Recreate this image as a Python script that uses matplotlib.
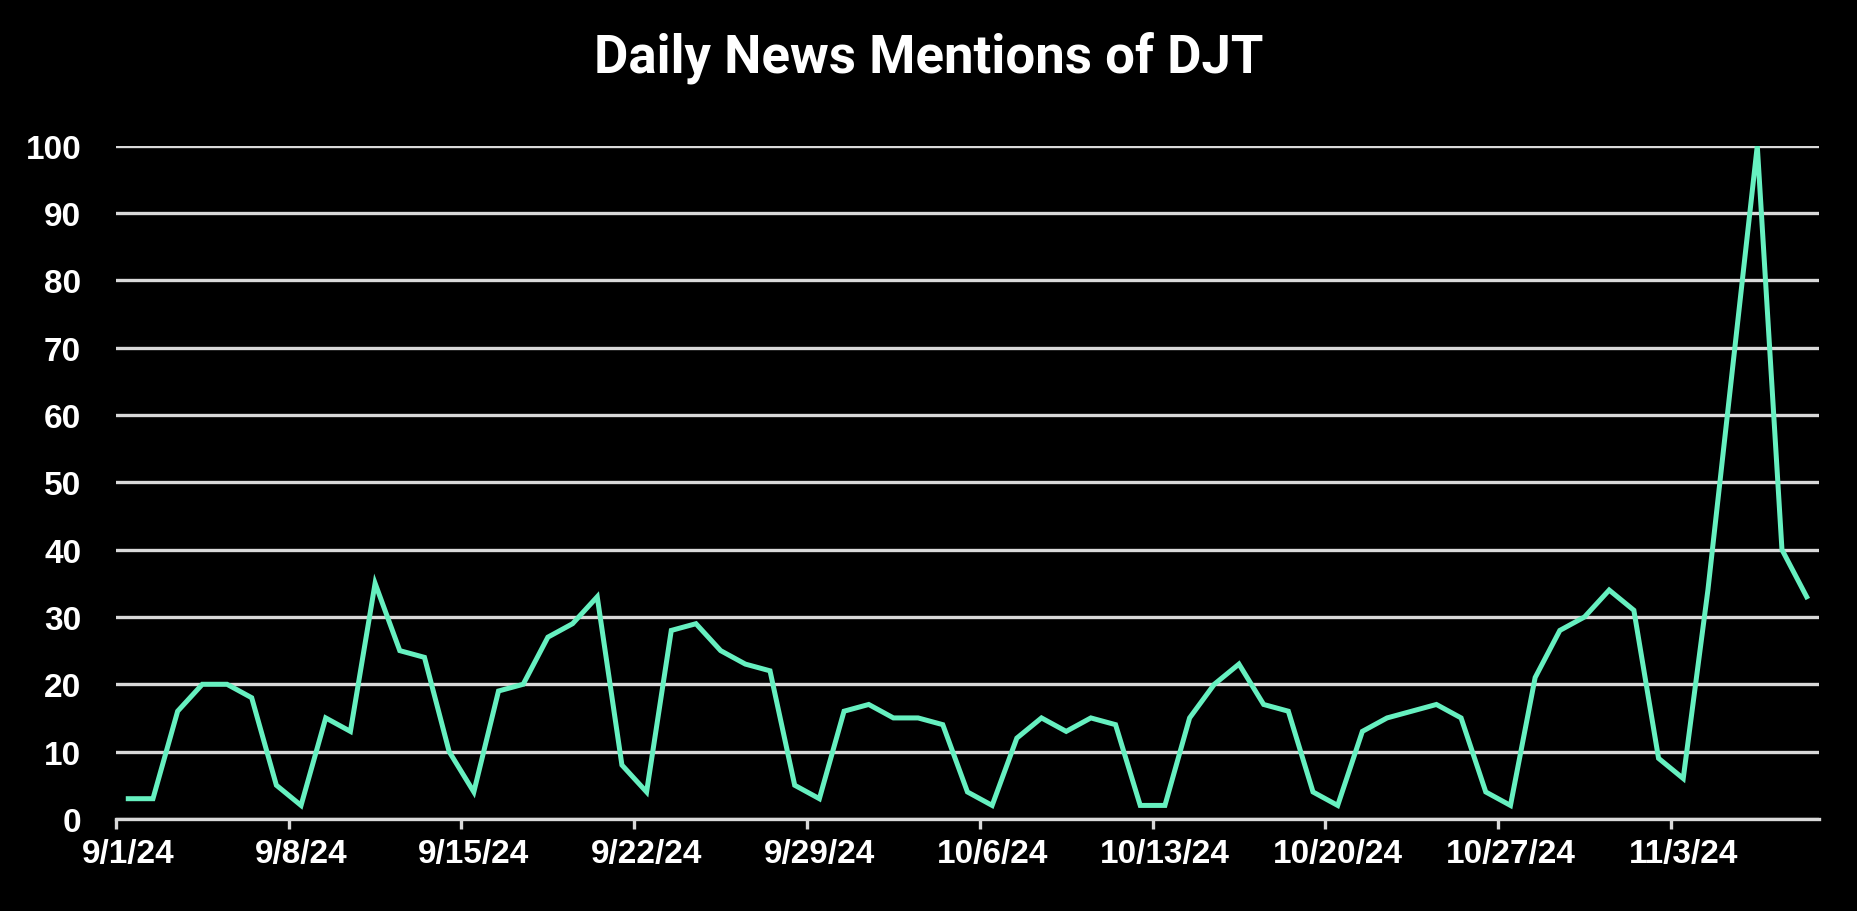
import numpy as np
import pandas as pd
import matplotlib
matplotlib.use("Agg")
import matplotlib.pyplot as plt
import matplotlib.dates as mdates

# daily mention index, 9/1/24 .. 11/8/24
start_date = "2024-09-01"
mentions = [3, 3, 16, 20, 20, 18, 5, 2, 15, 13, 35, 25, 24, 10, 4, 19, 20, 27, 29, 33,
            8, 4, 28, 29, 25, 23, 22, 5, 3, 16, 17, 15, 15, 14, 4, 2, 12, 15, 13, 15,
            14, 2, 2, 15, 20, 23, 17, 16, 4, 2, 13, 15, 16, 17, 15, 4, 2, 21, 28, 30,
            34, 31, 9, 6, 34, 67, 100, 40, 33]
y_ticks = [0, 10, 20, 30, 40, 50, 60, 70, 80, 90, 100]
title = "Daily News Mentions of DJT"

dates = pd.date_range(start_date, periods=len(mentions), freq="D")
half = pd.Timedelta(hours=12)
label_dates = dates[::7]

BG = "black"
GRID = "#d9d9d9"
LINE = "#66f0c0"

plt.rcParams['font.family'] = ['Liberation Sans', 'DejaVu Sans']

fig = plt.figure(figsize=(18.58, 9.12), dpi=100, facecolor=BG)
ax = fig.add_axes([0.0624, 0.101, 0.9166, 0.738])
ax.set_facecolor(BG)

ax.plot(dates, mentions, color=LINE, lw=3.6, solid_joinstyle="miter", zorder=3)

ax.set_ylim(0, 100)
ax.set_xlim(dates[0] - half, dates[-1] + half)
ax.set_yticks(y_ticks)
ax.yaxis.grid(True, color=GRID, lw=2.4)
ax.set_axisbelow(True)

# labels centred on the day, tick marks on the slot boundary
ax.set_xticks(label_dates)
ax.set_xticklabels([f"{d.month}/{d.day}/{d.strftime('%y')}" for d in label_dates])
ax.set_xticks(label_dates - half, minor=True)
ax.tick_params(axis="x", which="major", length=0, pad=14, labelsize=24, colors="white")
ax.tick_params(axis="x", which="minor", length=7, width=2.4, color=GRID)
ax.tick_params(axis="y", length=0, pad=25, labelsize=24, colors="white")
for lab in ax.get_xticklabels() + ax.get_yticklabels():
    lab.set_fontweight("bold")

for s in ["top", "right", "left"]:
    ax.spines[s].set_visible(False)
ax.spines["bottom"].set_color(GRID)
ax.spines["bottom"].set_linewidth(2.4)

fig.text(0.5, 0.937, title, ha="center", va="center", color="white",
         fontsize=38, fontweight="bold", family=["Roboto", "DejaVu Sans"])

fig.savefig("out.png", dpi=100, facecolor=BG)
